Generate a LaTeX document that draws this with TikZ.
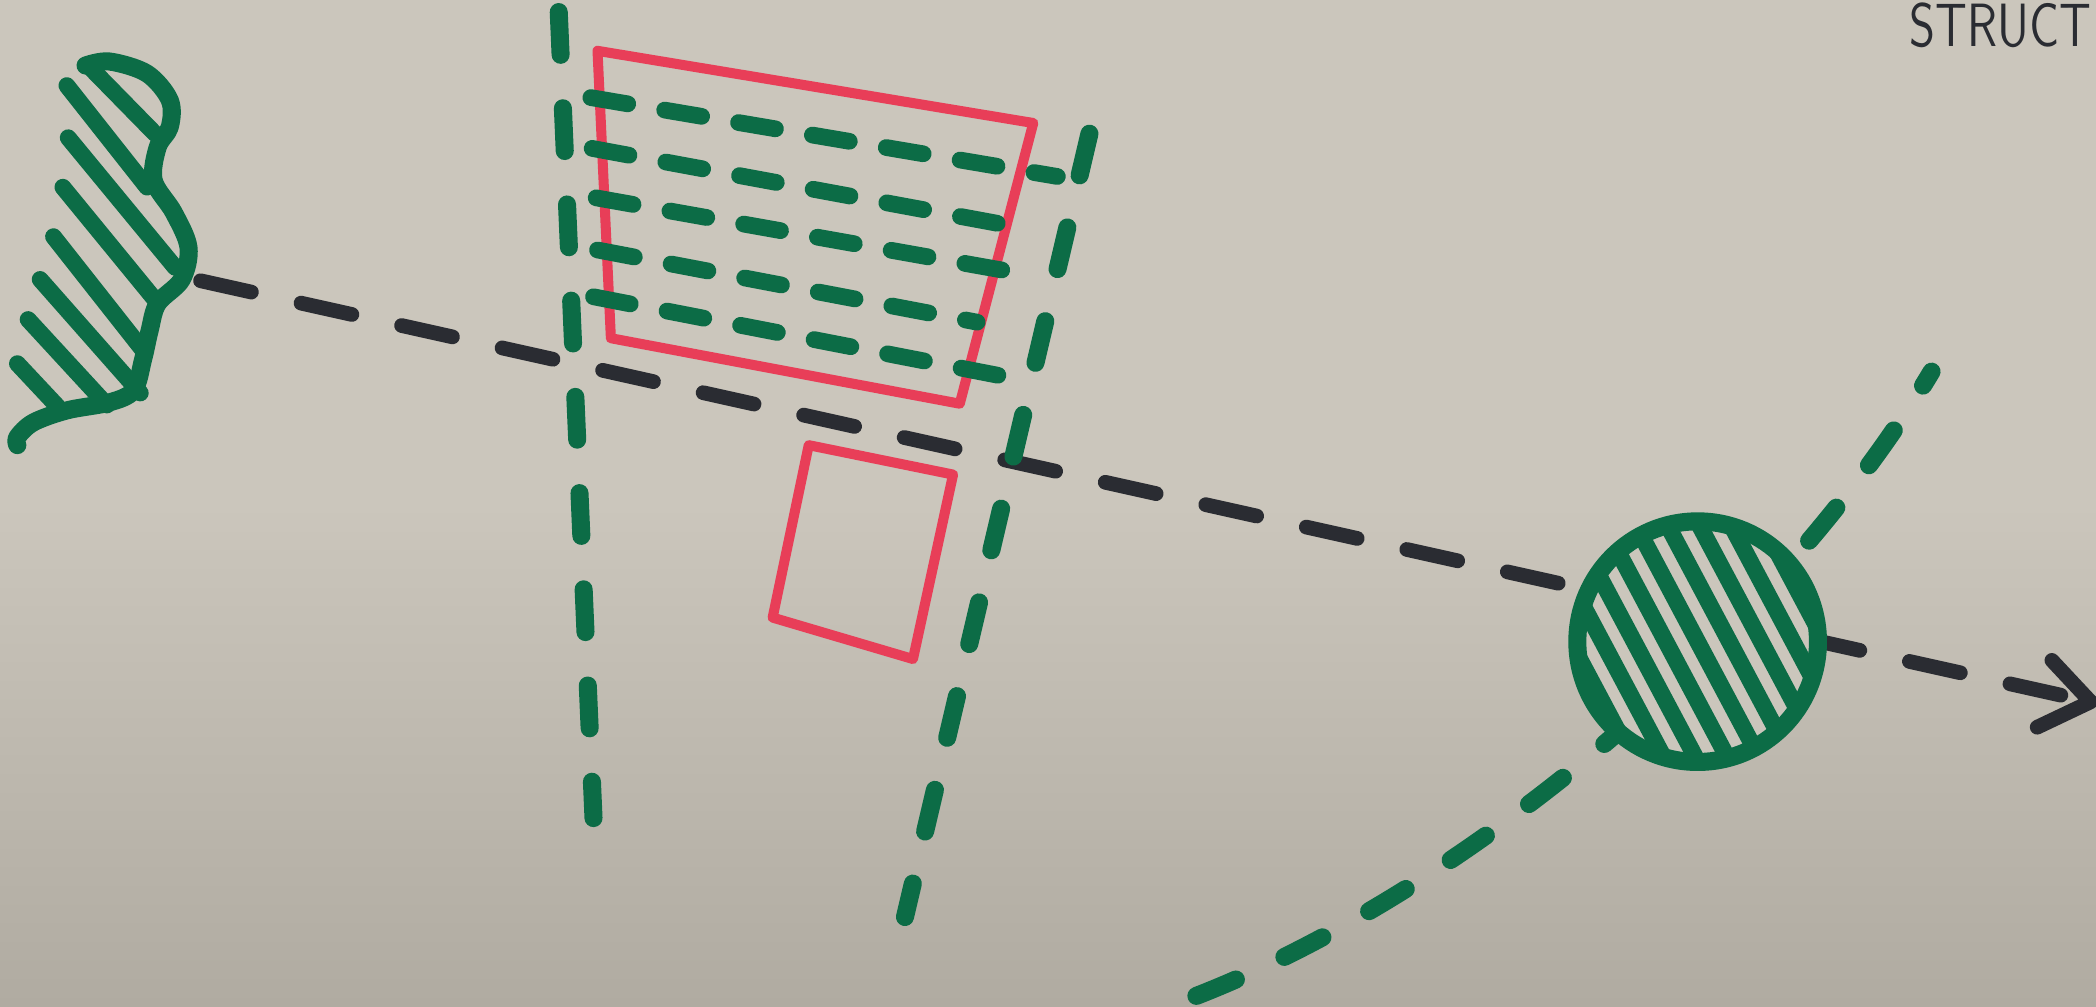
\documentclass[tikz,border=0pt]{standalone}
\definecolor{paper}{RGB}{203,198,188}
\definecolor{paperlow}{RGB}{176,171,161}
\definecolor{mgreen}{RGB}{12,108,70}
\definecolor{mred}{RGB}{232,62,88}
\definecolor{mink}{RGB}{42,44,50}
\begin{document}
\begin{tikzpicture}[x=0.01cm,y=-0.01cm,
  marker/.style={line cap=round,line join=round},
  gstroke/.style={marker,draw=mgreen,line width=0.135cm},
  gdash/.style={gstroke,dash pattern=on 0.32cm off 0.40cm},
  rowdash/.style={marker,draw=mgreen,line width=0.125cm,dash pattern=on 0.28cm off 0.28cm},
  redline/.style={marker,draw=mred,line width=0.075cm},
  inkdash/.style={marker,draw=mink,line width=0.11cm,dash pattern=on 0.39cm off 0.38cm},
  inkline/.style={marker,draw=mink,line width=0.11cm},
  hatch/.style={marker,draw=mgreen,line width=0.125cm}]
\useasboundingbox (0,0) rectangle (1568,753);
\clip (0,0) rectangle (1568,753);
\shade[top color=paper,bottom color=paperlow,middle color=paper] (0,0) rectangle (1568,753);

% red outlines
\draw[redline] (447,38) -- (773,92) -- (718,302) -- (457,253) -- cycle;
\draw[redline] (605,333) -- (713,355) -- (683,493) -- (578,462) -- cycle;

% black dashed axis with arrow
\coordinate (lineA) at (150,210);
\coordinate (tip) at (1564,525);
\coordinate (armU) at (1535,494);
\coordinate (armL) at (1524,544);
\draw[inkdash] (lineA) -- (tip);
\draw[inkline] (armU) -- (tip) -- (armL);

% green dashed columns
\coordinate (lcTop) at (418,9);
\coordinate (lcBot) at (444,612);
\coordinate (rcTop) at (815,100);
\coordinate (rcBot) at (677,686);
\draw[gdash] (lcTop) -- (lcBot);
\draw[gdash] (rcTop) -- (rcBot);

% green dashed rows
\draw[rowdash] (442,73) -- (791,132);
\draw[rowdash] (443,111) -- (773,172);
\draw[rowdash] (446,148) -- (761,204);
\draw[rowdash] (447,187) -- (731,241);
\draw[rowdash] (444,222) -- (748,281);

% green dashed curve
\coordinate (cvA) at (895,745);
\coordinate (cvB) at (1445,278);
\draw[gdash] (cvA) .. controls (1100,665) and (1330,470) .. (cvB);

% hatched circle
\node[circle,minimum size=1.8cm,inner sep=0,fill=paper] (hub) at (1270,480) {};
\begin{scope}
  \clip (1270,480) circle (90);
  \begin{scope}[shift={(1270,480)},rotate=28]
    \foreach \k in {-4,...,4} {
      \draw[hatch] (\k*21,-110) -- (\k*21,110);
    }
  \end{scope}
\end{scope}
\draw[gstroke] (hub.center) circle (90);

% hatched blob on the left
\draw[gstroke] plot[smooth,tension=0.55] coordinates {(64,49) (82,46) (110,55) (127,75) (127,95) (118,110) (115,135) (130,159) (141,185) (136,209) (118,227) (112,247) (107,269) (100,292) (82,301) (50,307) (25,316) (13,327) (13,333)};
\draw[hatch] (66,49) -- (116,100);
\draw[hatch] (50,64) -- (110,140);
\draw[hatch] (51,103) -- (131,200);
\draw[hatch] (47,140) -- (115,223);
\draw[hatch] (40,177) -- (107,262);
\draw[hatch] (30,209) -- (105,294);
\draw[hatch] (21,239) -- (80,303);
\draw[hatch] (13,272) -- (43,304);

% handwritten title
\node[anchor=base east,text=mink,inner sep=0,xscale=0.78,
      font=\fontsize{13}{14}\selectfont\sffamily] (title) at (1565,35) {STRUCT};
\end{tikzpicture}
\end{document}
